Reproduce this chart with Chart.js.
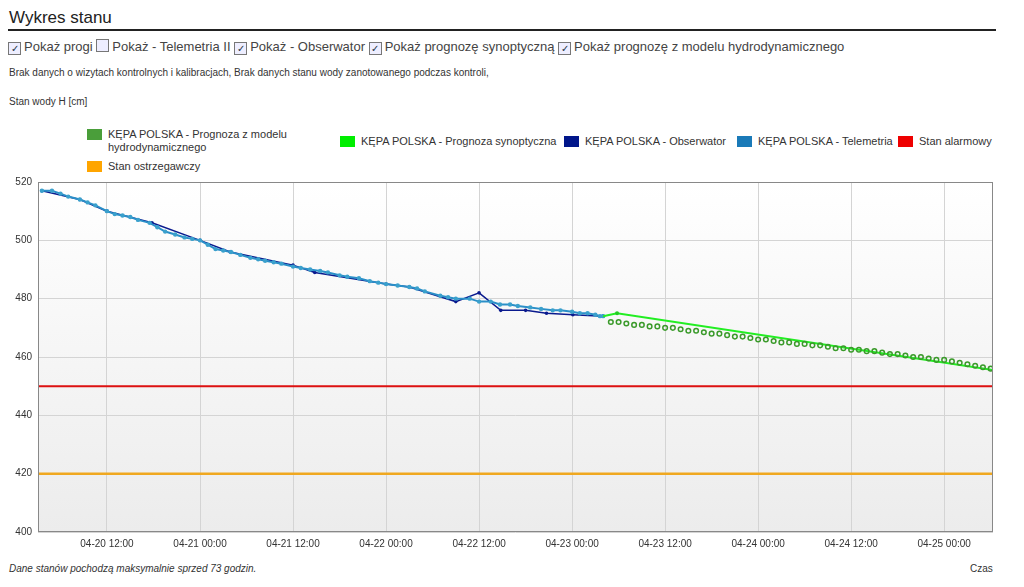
<!DOCTYPE html>
<html><head><meta charset="utf-8">
<script src="https://cdn.jsdelivr.net/npm/chart.js@4"></script>
<style>
body{margin:0;font-family:"Liberation Sans",Arial,sans-serif;background:#fff;color:#333;width:1024px;height:587px;position:relative;overflow:hidden}
.abs{position:absolute;white-space:nowrap}
#title{left:9px;top:8px;font-size:17px;color:#222}
#rule{left:8px;top:29px;width:988px;height:2px;background:#222}
#cbs{left:8px;top:39px;font-size:13px;color:#444}
.cb{display:inline-block;width:11px;height:11px;border:1px solid #777;vertical-align:-1px;margin-right:3px;font-size:10px;line-height:11px;text-align:center;color:#234;background:#eef}
.small{font-size:10px;color:#333}
.leg{position:absolute;font-size:11px;color:#333;line-height:13px}
.sw{position:absolute;width:15px;height:11px;left:-21px;top:1px}
#cw{position:absolute;left:0;top:170px;width:1000px;height:392px}
</style></head><body>
<div class="abs" id="title">Wykres stanu</div>
<div class="abs" id="rule"></div>
<div class="abs" id="cbs"><span class="cb">✓</span>Pokaż progi <span class="cb"></span>Pokaż - Telemetria II <span class="cb">✓</span>Pokaż - Obserwator <span class="cb">✓</span>Pokaż prognozę synoptyczną <span class="cb">✓</span>Pokaż prognozę z modelu hydrodynamicznego</div>
<div class="abs small" style="left:9px;top:67px">Brak danych o wizytach kontrolnych i kalibracjach, Brak danych stanu wody zanotowanego podczas kontroli,</div>
<div class="abs small" style="left:9px;top:96px">Stan wody H [cm]</div>
<div class="leg" style="left:108px;top:128px"><span class="sw" style="background:#4a9e3a"></span>KĘPA POLSKA - Prognoza z modelu<br>hydrodynamicznego</div>
<div class="leg" style="left:108px;top:160px"><span class="sw" style="background:#ffa500"></span>Stan ostrzegawczy</div>
<div class="leg" style="left:361px;top:135px"><span class="sw" style="background:#00ee00"></span>KĘPA POLSKA - Prognoza synoptyczna</div>
<div class="leg" style="left:585px;top:135px"><span class="sw" style="background:#00168a"></span>KĘPA POLSKA - Obserwator</div>
<div class="leg" style="left:758px;top:135px"><span class="sw" style="background:#1a7ab8"></span>KĘPA POLSKA - Telemetria</div>
<div class="leg" style="left:919px;top:135px"><span class="sw" style="background:#ee0000"></span>Stan alarmowy</div>
<div id="cw"><canvas id="c"></canvas></div>
<div class="abs small" style="left:9px;top:563px;font-style:italic">Dane stanów pochodzą maksymalnie sprzed 73 godzin.</div>
<div class="abs small" style="left:970px;top:563px">Czas</div>
<script>
// x = hours since 04-20 00:00
const telemetryHours=[3.6,4.9,6,7,8.5,9.5,10.5,12,13,14,15,16,17.5,18.5,19.5,20.8,22,23,24,25,26,27,28,29.2,30.5,31.5,32.4,33.5,34.5,36,37,38.2,39.5,40.5,42,43,44.5,45.9,47,48,49.5,51,52,53,55,56,57,58.8,60,61.5,62.7,64,65,66.6,68,69.5,70.5,72,73,74,75,75.6,76];
const telemetryValues=[517,517,516,515,514,513,512,510,509,508.5,508,507,506,504.5,503,502,501,500.5,500,498.5,497,496.5,496,495,494,493.5,493,492.5,492,491,490.5,490,489.5,489,488,487.5,487,486,485.5,485,484.5,484,483.5,482.5,481,480.5,480,480,479,479,478,478,477.5,477,476.5,476,476,475.5,475,475,474.5,474,474];
const observerHours=[3.6,8.5,12,17.8,24,27.9,36,38.8,48,51,57,60,62.8,66,68.7,72.1,76];
const observerValues=[517,514,510,506,500,496,491.5,489,485,484,479,482,476,476,475,474.5,474];
const synopticHours=[76,77.8,126.3];
const synopticValues=[474,475,455.5];
const hydroHours=[77,78,79,80,81,82,83,84,85,86,87,88,89,90,91,92,93,94,95,96,97,98,99,100,101,102,103,104,105,106,107,108,109,110,111,112,113,114,115,116,117,118,119,120,121,122,123,124,125,126];
const hydroValues=[472,472,471.5,471,471,470.5,470.5,470,470,469.5,469,469,468.5,468,468,467.5,467,467,466.5,466,466,465.5,465,465,464.5,464.5,464,464,463.5,463,463,462.5,462.5,462,462,461.5,461,461,460.5,460,460,459.5,459,459,458.5,458,457.5,457,456.5,456];
const alarmLevel=450, warningLevel=420;
const xMin=3.1, xMax=126.3;
const tickLabels={12:'04-20 12:00',24:'04-21 00:00',36:'04-21 12:00',48:'04-22 00:00',60:'04-22 12:00',72:'04-23 00:00',84:'04-23 12:00',96:'04-24 00:00',108:'04-24 12:00',120:'04-25 00:00'};
const pts=(h,v)=>h.map((x,i)=>({x,y:v[i]}));
const bg={id:'bg',beforeDraw(c){const a=c.chartArea,ctx=c.ctx;const g=ctx.createLinearGradient(0,a.top,0,a.bottom);g.addColorStop(0,'#ffffff');g.addColorStop(1,'#ececec');ctx.save();ctx.fillStyle=g;ctx.fillRect(a.left,a.top,a.width,a.height);ctx.restore();},
afterDraw(c){const a=c.chartArea,ctx=c.ctx;ctx.save();ctx.strokeStyle='#888';ctx.lineWidth=1;ctx.strokeRect(a.left+0.5,a.top+0.5,a.width-1,a.height-1);ctx.restore();}};
new Chart(document.getElementById('c'),{type:'line',plugins:[bg],
data:{datasets:[
{data:[{x:xMin,y:warningLevel},{x:xMax,y:warningLevel}],borderColor:'#f0a820',borderWidth:2.5,pointRadius:0},
{data:[{x:xMin,y:alarmLevel},{x:xMax,y:alarmLevel}],borderColor:'#dd1111',borderWidth:2,pointRadius:0},
{data:pts(hydroHours,hydroValues),showLine:false,pointRadius:2.3,pointBorderWidth:1.5,pointBorderColor:'#3a9a2a',pointBackgroundColor:'rgba(255,255,255,0)'},
{data:pts(synopticHours,synopticValues),borderColor:'#22ee22',borderWidth:2,pointRadius:[0,2,0],pointBackgroundColor:'#22cc22',pointBorderWidth:0},
{data:pts(telemetryHours,telemetryValues),borderColor:'#2a8fc8',borderWidth:2,pointRadius:2.2,pointBackgroundColor:'#3aa0cc',pointBorderWidth:0},
{data:pts(observerHours,observerValues),borderColor:'#0a1a8e',borderWidth:1.5,pointRadius:1.8,pointBackgroundColor:'#0a1a8e',pointBorderWidth:0}
]},
options:{animation:false,responsive:true,maintainAspectRatio:false,
layout:{padding:{top:10,right:7,left:0,bottom:0}},
plugins:{legend:{display:false},tooltip:{enabled:false}},
scales:{
x:{type:'linear',min:xMin,max:xMax,afterFit:s=>{s.height=30},
 afterBuildTicks:s=>{s.ticks=Object.keys(tickLabels).map(v=>({value:+v}))},
 ticks:{callback:v=>tickLabels[v]||'',color:'#333',font:{family:'Liberation Sans',size:10},maxRotation:0,autoSkip:false,padding:6},
 grid:{color:'#d4d4d4',drawTicks:false},border:{display:false}},
y:{min:400,max:520,afterFit:s=>{s.width=38},
 ticks:{stepSize:20,color:'#333',font:{family:'Liberation Sans',size:10},padding:6},
 grid:{color:'#d4d4d4',drawTicks:false},border:{display:false}}
}}});
</script></body></html>
